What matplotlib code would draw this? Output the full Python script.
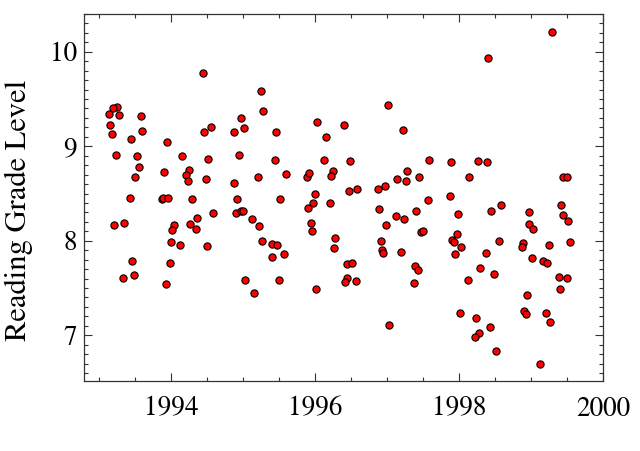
import matplotlib
matplotlib.use('Agg')
import matplotlib.pyplot as plt
from matplotlib import font_manager
from matplotlib.ticker import MultipleLocator

# reading grade level of samples
year = [1994.44, 1995.25, 1995.28, 1993.25, 1993.20, 1993.14, 1993.28, 1993.58, 1994.98, 1993.16,
        1994.56, 1995.02, 1993.60, 1994.46, 1994.87, 1993.18, 1993.45, 1993.94, 1993.24, 1993.53,
        1994.16, 1994.52, 1994.94, 1993.55, 1994.25, 1994.21, 1993.50, 1993.91, 1994.23, 1994.48,
        1994.88, 1995.21, 1993.43, 1993.88, 1993.89, 1993.96, 1994.29, 1994.92, 1994.58, 1994.91,
        1994.97, 1995.00, 1993.21, 1993.35, 1994.04, 1994.02, 1994.27, 1994.36, 1994.35, 1995.13,
        1995.23, 1995.27, 1994.00, 1994.13, 1994.50, 1993.46, 1993.98, 1993.33, 1993.49, 1993.93,
        1995.03, 1995.15, 1997.01, 1996.03, 1996.40, 1995.46, 1996.15, 1997.22, 1995.44, 1996.13,
        1996.49, 1997.59, 1995.60, 1995.89, 1995.92, 1996.25, 1996.23, 1997.28, 1997.14, 1997.26,
        1997.45, 1996.47, 1996.59, 1996.88, 1996.97, 1995.52, 1996.00, 1995.98, 1995.90, 1996.21,
        1996.89, 1997.57, 1997.41, 1997.12, 1997.24, 1996.99, 1997.48, 1997.50, 1995.94, 1995.96,
        1995.41, 1995.48, 1996.28, 1996.26, 1996.92, 1996.93, 1996.95, 1997.20, 1995.40, 1995.57,
        1996.44, 1996.51, 1997.39, 1997.43, 1995.50, 1996.02, 1996.45, 1996.42, 1996.57, 1997.37,
        1997.03, 1999.29, 1998.41, 1997.89, 1998.26, 1998.39, 1998.14, 1999.45, 1999.50, 1997.87,
        1998.58, 1998.45, 1997.99, 1999.42, 1998.98, 1999.45, 1999.52, 1998.97, 1999.03, 1997.97,
        1997.91, 1997.93, 1998.03, 1997.95, 1998.56, 1998.37, 1998.89, 1998.87, 1999.25, 1999.54,
        1999.01, 1999.17, 1999.23, 1998.29, 1998.49, 1998.13, 1999.39, 1999.50, 1999.40, 1998.95,
        1998.01, 1998.91, 1998.93, 1999.21, 1999.27, 1998.24, 1998.43, 1998.28, 1998.22, 1998.51,
        1999.12]
grade = [9.78, 9.58, 9.37, 9.42, 9.41, 9.34, 9.33, 9.32, 9.30, 9.23,
         9.20, 9.19, 9.16, 9.15, 9.15, 9.13, 9.08, 9.04, 8.91, 8.90,
         8.90, 8.87, 8.91, 8.78, 8.75, 8.70, 8.68, 8.73, 8.63, 8.65,
         8.61, 8.68, 8.45, 8.44, 8.45, 8.45, 8.44, 8.44, 8.29, 8.29,
         8.31, 8.32, 8.17, 8.19, 8.17, 8.11, 8.18, 8.24, 8.12, 8.23,
         8.16, 8.00, 7.99, 7.96, 7.94, 7.79, 7.77, 7.61, 7.64, 7.54,
         7.58, 7.45, 9.44, 9.26, 9.22, 9.15, 9.10, 9.17, 8.86, 8.85,
         8.84, 8.86, 8.71, 8.68, 8.72, 8.74, 8.69, 8.74, 8.65, 8.63,
         8.67, 8.53, 8.55, 8.55, 8.58, 8.44, 8.49, 8.40, 8.35, 8.40,
         8.34, 8.43, 8.32, 8.26, 8.23, 8.17, 8.09, 8.10, 8.19, 8.10,
         7.97, 7.96, 8.03, 7.92, 8.00, 7.90, 7.87, 7.88, 7.83, 7.86,
         7.75, 7.76, 7.73, 7.69, 7.59, 7.49, 7.61, 7.56, 7.57, 7.55,
         7.11, 10.21, 9.93, 8.83, 8.84, 8.83, 8.67, 8.68, 8.68, 8.47,
         8.38, 8.31, 8.28, 8.38, 8.30, 8.27, 8.21, 8.18, 8.12, 8.07,
         8.01, 7.99, 7.93, 7.86, 8.00, 7.87, 7.98, 7.93, 7.96, 7.99,
         7.82, 7.79, 7.76, 7.71, 7.65, 7.59, 7.62, 7.61, 7.49, 7.43,
         7.24, 7.26, 7.23, 7.24, 7.14, 7.18, 7.09, 7.02, 6.98, 6.83,
         6.70]

# Times-like serif: Tinos if installed, else the STIX font shipped with matplotlib
names = {f.name for f in font_manager.fontManager.ttflist}
fam = 'Tinos' if 'Tinos' in names else 'STIXGeneral'
plt.rcParams['font.family'] = [fam, 'DejaVu Serif']

fig = plt.figure(figsize=(6.4, 4.51), dpi=100)
ax = fig.add_axes([0.131, 0.155, 0.811, 0.814])

ax.plot(year, grade, lw=0, marker='o', ms=5.2, mfc='red', mec='black', mew=0.8)

ax.set_xlim(1992.79, 2000.0)
ax.set_ylim(6.515, 10.40)
ax.xaxis.set_major_locator(MultipleLocator(2))
ax.xaxis.set_minor_locator(MultipleLocator(0.5))
ax.yaxis.set_major_locator(MultipleLocator(1))
ax.yaxis.set_minor_locator(MultipleLocator(0.1))
ax.tick_params(which='both', direction='in', top=True, right=True, color='#333333', labelsize=19.5)
ax.tick_params(which='major', length=6, width=0.8)
ax.tick_params(which='minor', length=3, width=0.8)
ax.tick_params(axis='x', which='major', pad=11)
ax.tick_params(axis='y', which='major', pad=5)
for s in ax.spines.values():
    s.set_color('#333333')
    s.set_linewidth(0.9)

ax.set_ylabel('Reading Grade Level', fontsize=22)
ax.yaxis.set_label_coords(-0.098, 0.465)

fig.savefig('out.png', dpi=100)
